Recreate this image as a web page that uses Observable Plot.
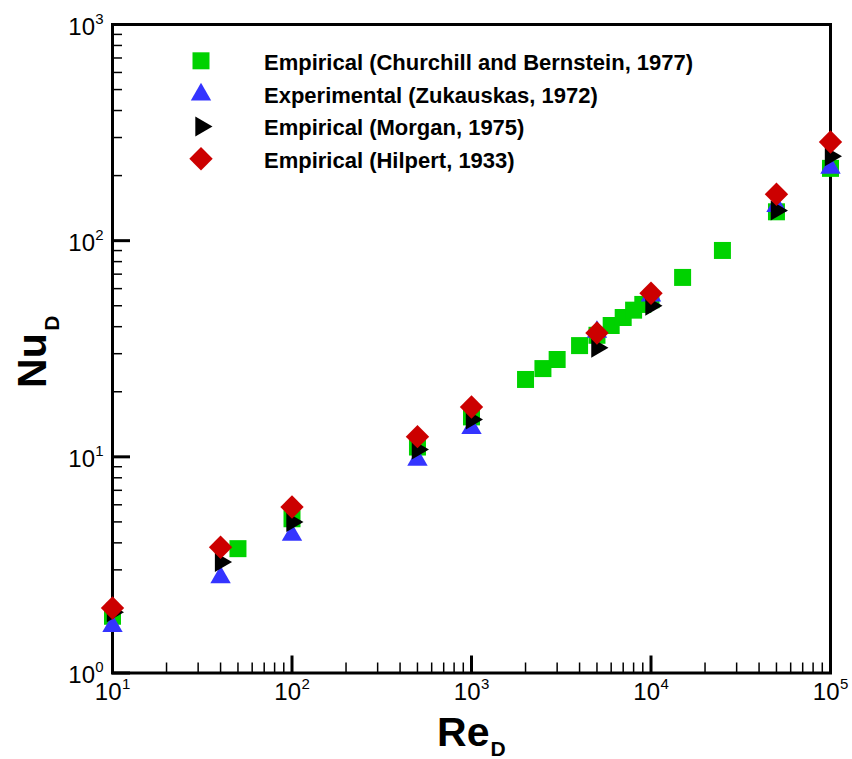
<!DOCTYPE html>
<html><head><meta charset="utf-8">
<script src="https://cdn.jsdelivr.net/npm/d3@7"></script>
<script src="https://cdn.jsdelivr.net/npm/@observablehq/plot@0.6"></script>
<style>body{margin:0;background:#fff} svg{display:block}</style>
</head><body><div id="chart"></div>
<script>
// ---- data ----
const seriesNames = [
  "Empirical (Churchill and Bernstein, 1977)",
  "Experimental (Zukauskas, 1972)",
  "Empirical (Morgan, 1975)",
  "Empirical (Hilpert, 1933)"
];
const churchillRe = [10, 50, 100, 500, 1000, 2000, 2500, 3000, 4000, 5000, 6000, 7000, 8000, 9000, 10000, 15000, 25000, 50000, 100000];
const churchillNu = [1.83, 3.76, 5.17, 11.1, 15.3, 22.8, 25.6, 28.2, 32.7, 36.5, 40.5, 44.1, 47.7, 50.7, 53.3, 67.6, 90.1, 136, 216];
const zukauskasRe = [10, 40, 100, 500, 1000, 5000, 10000, 50000, 100000];
const zukauskasNu = [1.70, 2.86, 4.49, 10.0, 14.0, 39.0, 57.5, 149, 224];
const morganRe = [10, 40, 100, 500, 1000, 5000, 10000, 50000, 100000];
const morganNu = [1.91, 3.26, 4.99, 10.8, 14.9, 32.0, 50.0, 138, 246];
const hilpertRe = [10, 40, 100, 500, 1000, 5000, 10000, 50000, 100000];
const hilpertNu = [2.0, 3.82, 5.86, 12.4, 17.0, 37.4, 57.1, 164, 286];

const xTickExponents = [1, 2, 3, 4, 5];
const yTickExponents = [0, 1, 2, 3];
const minorMultipliers = [2, 3, 4, 5, 6, 7, 8, 9];
const xLabel = ["Re", "D"];
const yLabel = ["Nu", "D"];

// ---- build ----
const seriesRe = [churchillRe, zukauskasRe, morganRe, hilpertRe];
const seriesNu = [churchillNu, zukauskasNu, morganNu, hilpertNu];
const seriesData = seriesRe.map((re, i) => re.map((r, j) => ({series: seriesNames[i], Re: r, Nu: seriesNu[i][j]})));

const colors = ["#00d200", "#3434ff", "#000000", "#cc0000"];
const symbols = [
  {draw(c) { c.moveTo(-8.5, -8.5); c.lineTo(8.5, -8.5); c.lineTo(8.5, 8.5); c.lineTo(-8.5, 8.5); c.closePath(); }},
  {draw(c) { c.moveTo(0, -8.8); c.lineTo(10.2, 8.8); c.lineTo(-10.2, 8.8); c.closePath(); }},
  {draw(c) { c.moveTo(11.5, 0); c.lineTo(-5.7, -10); c.lineTo(-5.7, 10); c.closePath(); }},
  {draw(c) { c.moveTo(0, -11.7); c.lineTo(11.7, 0); c.lineTo(0, 11.7); c.lineTo(-11.7, 0); c.closePath(); }}
];

const xDomain = [10 ** xTickExponents[0], 10 ** xTickExponents[xTickExponents.length - 1]];
const yDomain = [10 ** yTickExponents[0], 10 ** yTickExponents[yTickExponents.length - 1]];
const xMajor = xTickExponents.map(e => 10 ** e);
const yMajor = yTickExponents.map(e => 10 ** e);
const xMinor = xTickExponents.slice(0, -1).flatMap(e => minorMultipliers.map(m => m * 10 ** e));
const yMinor = yTickExponents.slice(0, -1).flatMap(e => minorMultipliers.map(m => m * 10 ** e));

const legendMarkerAdj = [-1, -3, -1, -1.5];
const legendMarks = seriesNames.flatMap((name, i) => [
  Plot.dot([name], {frameAnchor: "top-left", dx: 88.5, dy: 37.3 + 32.8 * i + legendMarkerAdj[i], symbol: symbols[i], fill: colors[i], stroke: "none"}),
  Plot.text([name], {frameAnchor: "top-left", dx: 151.5, dy: 45.3 + 32.8 * i, text: d => d, textAnchor: "start", lineAnchor: "bottom", fontSize: 22, fontWeight: "bold", fill: "black"})
]);

const chart = Plot.plot({
  width: 852,
  height: 759,
  marginLeft: 112,
  marginRight: 22,
  marginTop: 24,
  marginBottom: 86.5,
  style: {background: "white", fontFamily: "'Liberation Sans', Arial, Helvetica, sans-serif", color: "black"},
  x: {type: "log", domain: xDomain},
  y: {type: "log", domain: yDomain},
  marks: [
    Plot.frame({stroke: "black", strokeWidth: 3}),
    // inward ticks
    Plot.axisX(xMinor, {anchor: "bottom", tickSize: 10, dy: -10, tickFormat: () => "", label: null, strokeWidth: 1.5}),
    Plot.axisX(xMajor, {anchor: "bottom", tickSize: 17, dy: -17, tickFormat: () => "", label: null, strokeWidth: 3}),
    Plot.axisY(yMinor, {anchor: "left", tickSize: 10, dx: 10, tickFormat: () => "", label: null, strokeWidth: 1.5}),
    Plot.axisY(yMajor, {anchor: "left", tickSize: 18, dx: 18, tickFormat: () => "", label: null, strokeWidth: 3}),
    // tick labels
    Plot.text(xMajor, {x: d => d, y: () => yDomain[0], text: () => "10", textAnchor: "end", lineAnchor: "bottom", dx: 9, dy: 26.8, fontSize: 24, fill: "black"}),
    Plot.text(xTickExponents, {x: d => 10 ** d, y: () => yDomain[0], text: d => String(d), textAnchor: "start", lineAnchor: "bottom", dx: 9.5, dy: 15.8, fontSize: 15, fill: "black"}),
    Plot.text(yMajor, {x: () => xDomain[0], y: d => d, text: () => "10", textAnchor: "end", lineAnchor: "bottom", dx: -17.5, dy: 10, fontSize: 24, fill: "black"}),
    Plot.text(yTickExponents, {x: () => xDomain[0], y: d => 10 ** d, text: d => String(d), textAnchor: "start", lineAnchor: "bottom", dx: -17.2, dy: -1, fontSize: 15, fill: "black"}),
    // axis titles
    Plot.text([xLabel[0]], {frameAnchor: "bottom", text: d => d, textAnchor: "end", lineAnchor: "bottom", dx: 18, dy: 72.5, fontSize: 41, fontWeight: "bold", fill: "black"}),
    Plot.text([xLabel[1]], {frameAnchor: "bottom", text: d => d, textAnchor: "start", lineAnchor: "bottom", dx: 19, dy: 82.5, fontSize: 21, fontWeight: "bold", fill: "black"}),
    Plot.text([yLabel[0]], {frameAnchor: "left", text: d => d, textAnchor: "end", lineAnchor: "bottom", rotate: -90, dx: -67, dy: -15.5, fontSize: 41, fontWeight: "bold", fill: "black"}),
    Plot.text([yLabel[1]], {frameAnchor: "left", text: d => d, textAnchor: "start", lineAnchor: "bottom", rotate: -90, dx: -54, dy: -18, fontSize: 21, fontWeight: "bold", fill: "black"}),
    // data
    ...seriesData.map((data, i) => Plot.dot(data, {x: "Re", y: "Nu", symbol: symbols[i], fill: colors[i], stroke: "none"})),
    ...legendMarks
  ]
});
document.getElementById("chart").appendChild(chart);
</script>
</body></html>
